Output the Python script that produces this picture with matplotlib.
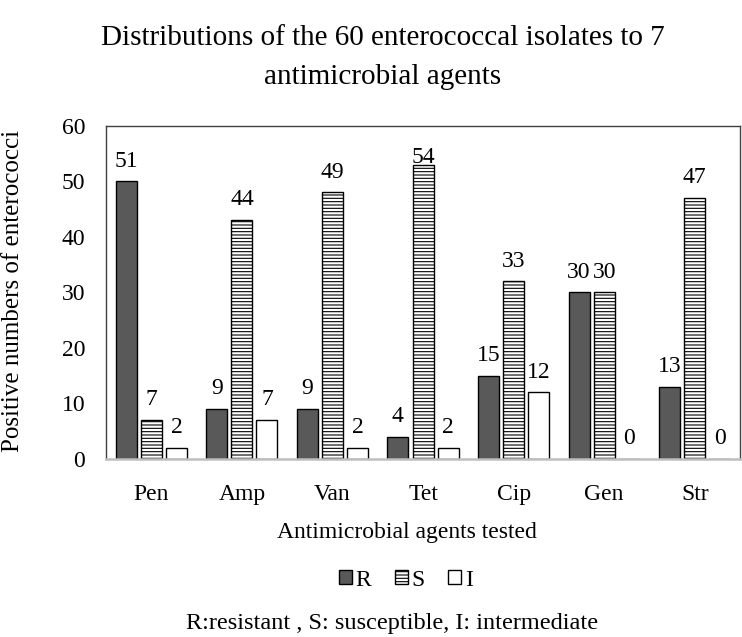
import matplotlib.pyplot as plt
import matplotlib.patches as mpatches
import numpy as np

plt.rcParams['font.family'] = ['Liberation Serif', 'DejaVu Serif']
plt.rcParams['hatch.linewidth'] = 0.8

# Data
agents = ["Pen", "Amp", "Van", "Tet", "Cip", "Gen", "Str"]
# bar heights as drawn in the chart
resistant = [50, 9, 9, 4, 15, 30, 13]
susceptible = [7, 43, 48, 53, 32, 30, 47]
intermediate = [2, 7, 2, 2, 12, 0, 0]
# numbers printed above the bars
resistant_lbl = [51, 9, 9, 4, 15, 30, 13]
susceptible_lbl = [7, 44, 49, 54, 33, 30, 47]
intermediate_lbl = [2, 7, 2, 2, 12, 0, 0]

series = [
    ("R", resistant, resistant_lbl, dict(facecolor="#595959", hatch=None)),
    ("S", susceptible, susceptible_lbl, dict(facecolor="white", hatch="-----")),
    ("I", intermediate, intermediate_lbl, dict(facecolor="white", hatch=None)),
]

FS = 17

fig = plt.figure(figsize=(7.42, 6.37), dpi=100)
ax = fig.add_axes([0.1429, 0.2794, 0.8544, 0.5233])

x = np.arange(len(agents))
step = 0.277
width = 0.232

for i, (name, vals, lbls, st) in enumerate(series):
    pos = x + (i - 1) * step
    ax.bar(pos, vals, width, facecolor=st["facecolor"], hatch=st["hatch"],
           edgecolor="black", linewidth=1.0, label=name)
    for px, v, lb, ag in zip(pos, vals, lbls, agents):
        off = 5 if (name == "S" and ag == "Tet") else 14.5
        ax.annotate(str(lb), (px, v), xytext=(0, off), textcoords="offset points",
                    ha="center", va="center", fontsize=FS)

ax.set_xlim(-0.5, len(agents) - 0.5)
ax.set_ylim(0, 60)
ax.set_yticks(range(0, 61, 10))
ax.set_xticks(x)
ax.set_xticklabels(agents)
ax.tick_params(axis="both", length=0, labelsize=FS)
ax.tick_params(axis="y", pad=15)
ax.tick_params(axis="x", pad=18)

for s in ["left", "top", "right"]:
    ax.spines[s].set_color("#404040")
    ax.spines[s].set_linewidth(1.0)
ax.spines["bottom"].set_color("#bfbfbf")
ax.spines["bottom"].set_linewidth(1.8)

# title (two centred lines)
fig.text(0.516, 1 - 45 / 637, "Distributions of the 60 enterococcal isolates to 7",
         ha="center", va="baseline", fontsize=21)
fig.text(0.516, 1 - 84 / 637, "antimicrobial agents",
         ha="center", va="baseline", fontsize=21)

fig.text(13.5 / 742, 0.543, "Positive numbers of enterococci", rotation=90,
         ha="center", va="center", fontsize=18)
fig.text(406.5 / 742, 1 - 538 / 637, "Antimicrobial agents tested",
         ha="center", va="baseline", fontsize=17)

handles = [mpatches.Patch(facecolor=st["facecolor"], hatch=st["hatch"], edgecolor="black",
                          linewidth=1.0, label=name) for name, _, _, st in series]
fig.legend(handles=handles, loc="center", bbox_to_anchor=(406 / 742, 1 - 580 / 637), ncol=3,
           frameon=False, fontsize=17, handlelength=0.55, handleheight=0.55,
           handletextpad=0.15, columnspacing=1.0, borderpad=0)
fig.text(392.5 / 742, 1 - 629 / 637, "R:resistant , S: susceptible, I: intermediate",
         ha="center", va="baseline", fontsize=17.5)

fig.savefig("out.png", dpi=100)
